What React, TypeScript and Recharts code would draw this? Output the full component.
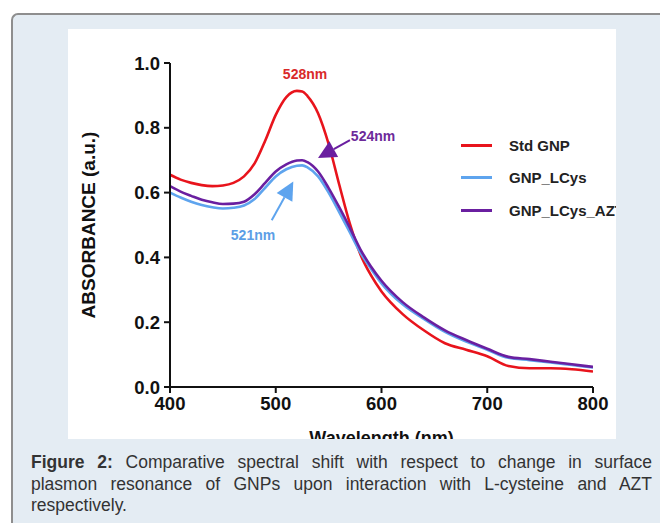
import React from 'react';
import { LineChart, Line, XAxis, YAxis, ReferenceDot, ReferenceLine, Legend } from 'recharts';

const wavelengths = [400, 410, 420, 430, 440, 450, 460, 470, 480, 490, 500, 510, 520, 525, 530, 540, 550, 560, 570, 580, 590, 600, 620, 640, 660, 680, 700, 720, 740, 760, 780, 800];
const stdGnp = [0.655, 0.640, 0.630, 0.623, 0.620, 0.622, 0.630, 0.650, 0.690, 0.760, 0.840, 0.895, 0.914, 0.912, 0.898, 0.845, 0.750, 0.625, 0.505, 0.410, 0.345, 0.295, 0.225, 0.175, 0.135, 0.115, 0.095, 0.065, 0.058, 0.058, 0.055, 0.048];
const gnpLCys = [0.600, 0.585, 0.572, 0.562, 0.555, 0.551, 0.553, 0.560, 0.580, 0.615, 0.650, 0.672, 0.683, 0.684, 0.678, 0.650, 0.600, 0.540, 0.478, 0.415, 0.365, 0.320, 0.255, 0.210, 0.170, 0.140, 0.115, 0.090, 0.083, 0.076, 0.068, 0.060];
const gnpLCysAzt = [0.620, 0.603, 0.590, 0.578, 0.570, 0.565, 0.566, 0.572, 0.595, 0.630, 0.665, 0.687, 0.699, 0.700, 0.694, 0.665, 0.614, 0.555, 0.492, 0.425, 0.372, 0.328, 0.262, 0.215, 0.175, 0.145, 0.118, 0.093, 0.086, 0.078, 0.070, 0.062];

const xTicks = [400, 500, 600, 700, 800];
const yTicks = [0, 0.2, 0.4, 0.6, 0.8, 1.0];

const seriesNames = ['Std GNP', 'GNP_LCys', 'GNP_LCys_AZT'];
const seriesKeys = ['std', 'lcys', 'azt'];
const seriesColors = ['#e8141c', '#5ea4ee', '#6a1fa0'];

const peakLabels = [
  { text: '528nm', x: 527.7, y: 0.966, color: '#d92a2a' },
  { text: '524nm', x: 592, y: 0.775, color: '#6d2a9a' },
  { text: '521nm', x: 478.5, y: 0.469, color: '#5c9ee6' },
];
const arrows = [
  { x1: 570.2, y1: 0.762, x2: 540, y2: 0.707, color: '#6a1fa0' },
  { x1: 496.2, y1: 0.515, x2: 516.6, y2: 0.634, color: '#5ea4ee' },
];

const data = wavelengths.map((w, i) => ({ w, std: stdGnp[i], lcys: gnpLCys[i], azt: gnpLCysAzt[i] }));

const FONT = '"Liberation Sans", Arial, Helvetica, sans-serif';

const ArrowShape = (color: string) => (props: any) => {
  const { x1, y1, x2, y2 } = props;
  const dx = x2 - x1;
  const dy = y2 - y1;
  const len = Math.sqrt(dx * dx + dy * dy) || 1;
  const ux = dx / len;
  const uy = dy / len;
  const headLen = 18;
  const halfW = 9;
  const bx = x2 - ux * headLen;
  const by = y2 - uy * headLen;
  const px = -uy;
  const py = ux;
  const pts = `${x2},${y2} ${bx + px * halfW},${by + py * halfW} ${bx - px * halfW},${by - py * halfW}`;
  return (
    <g>
      <line x1={x1} y1={y1} x2={bx} y2={by} stroke={color} strokeWidth={2} />
      <polygon points={pts} fill={color} />
    </g>
  );
};

const LegendContent = () => (
  <div style={{ fontFamily: FONT }}>
    {seriesNames.map((name, i) => (
      <div key={name} style={{ height: 32.5, display: 'flex', alignItems: 'center', whiteSpace: 'nowrap' }}>
        <span style={{ display: 'inline-block', width: 31, height: 3, background: seriesColors[i] }} />
        <span style={{ marginLeft: 17, fontSize: 15, fontWeight: 'bold', color: '#222' }}>{name}</span>
      </div>
    ))}
  </div>
);

const YLabel = (props: any) => {
  const vb = props.viewBox || {};
  const x = vb.x + 8;
  const y = vb.y + vb.height / 2;
  return (
    <text x={x} y={y} transform={`rotate(-90, ${x}, ${y})`} textAnchor="middle" dominantBaseline="central"
      style={{ fontFamily: FONT, fontSize: 19, fontWeight: 'bold', fill: '#111' }}>
      ABSORBANCE (a.u.)
    </text>
  );
};

const XLabel = (props: any) => {
  const vb = props.viewBox || {};
  const x = vb.x + vb.width / 2;
  const y = vb.y + 56.5;
  return (
    <text x={x} y={y} textAnchor="middle" style={{ fontFamily: FONT, fontSize: 18, fontWeight: 'bold', fill: '#111' }}>
      Wavelength (nm)
    </text>
  );
};

export default function App() {
  return (
    <div style={{ position: 'absolute', left: 0, top: 0, width: 660, height: 523, overflow: 'hidden', background: '#ffffff' }}>
      <div style={{
        position: 'absolute', left: 11, top: 13, width: 700, height: 560,
        borderTop: '2px solid #8e8e8e', borderLeft: '2px solid #8e8e8e', borderTopLeftRadius: 7,
        background: '#e4ecf3', boxSizing: 'border-box',
      }} />
      <div style={{ position: 'absolute', left: 68, top: 29, width: 548, height: 410, background: '#ffffff', overflow: 'hidden' }}>
        <LineChart width={548} height={440} data={data} margin={{ top: 34, right: 23, bottom: 42, left: 12 }}>
          <XAxis
            dataKey="w" type="number" domain={[400, 800]} ticks={xTicks} allowDataOverflow
            axisLine={{ stroke: '#111', strokeWidth: 2 }} tickLine={{ stroke: '#111', strokeWidth: 2 }}
            tickSize={6} tickMargin={4} height={40}
            tick={{ fill: '#111', fontSize: 18.5, fontWeight: 'bold', fontFamily: FONT }}
            label={XLabel}
          />
          <YAxis
            type="number" domain={[0, 1]} ticks={yTicks} width={90}
            tickFormatter={(v: number) => v.toFixed(1)}
            axisLine={{ stroke: '#111', strokeWidth: 2 }} tickLine={{ stroke: '#111', strokeWidth: 2 }}
            tickSize={6} tickMargin={4}
            tick={{ fill: '#111', fontSize: 18.5, fontWeight: 'bold', fontFamily: FONT }}
            label={YLabel}
          />
          <Legend layout="horizontal" verticalAlign="middle" content={LegendContent}
            wrapperStyle={{ left: 393, top: 100, width: 200, height: 100 }} />
          {seriesKeys.map((k, i) => (
            <Line key={k} type="monotone" dataKey={k} name={seriesNames[i]} stroke={seriesColors[i]}
              strokeWidth={2.6} dot={false} activeDot={false} isAnimationActive={false} />
          ))}
          {arrows.map((a, i) => (
            <ReferenceLine key={'a' + i} segment={[{ x: a.x1, y: a.y1 }, { x: a.x2, y: a.y2 }]}
              shape={ArrowShape(a.color)} ifOverflow="visible" />
          ))}
          {peakLabels.map((p) => (
            <ReferenceDot key={p.text} x={p.x} y={p.y} r={0} ifOverflow="visible"
              shape={(s: any) => (
                <text x={s.cx} y={s.cy} textAnchor="middle" dominantBaseline="central"
                  style={{ fontFamily: FONT, fontSize: 14, fontWeight: 'bold', fill: p.color }}>{p.text}</text>
              )} />
          ))}
        </LineChart>
      </div>
      <div style={{ position: 'absolute', left: 31, top: 452, width: 621, fontFamily: FONT, fontSize: 17.5, lineHeight: '21.5px', color: '#333' }}>
        <div style={{ textAlign: 'justify', textAlignLast: 'justify', whiteSpace: 'nowrap' }}>
          <b>Figure 2:</b> Comparative spectral shift with respect to change in surface
        </div>
        <div style={{ textAlign: 'justify', textAlignLast: 'justify', whiteSpace: 'nowrap' }}>
          plasmon resonance of GNPs upon interaction with L-cysteine and AZT
        </div>
        <div>respectively.</div>
      </div>
    </div>
  );
}
